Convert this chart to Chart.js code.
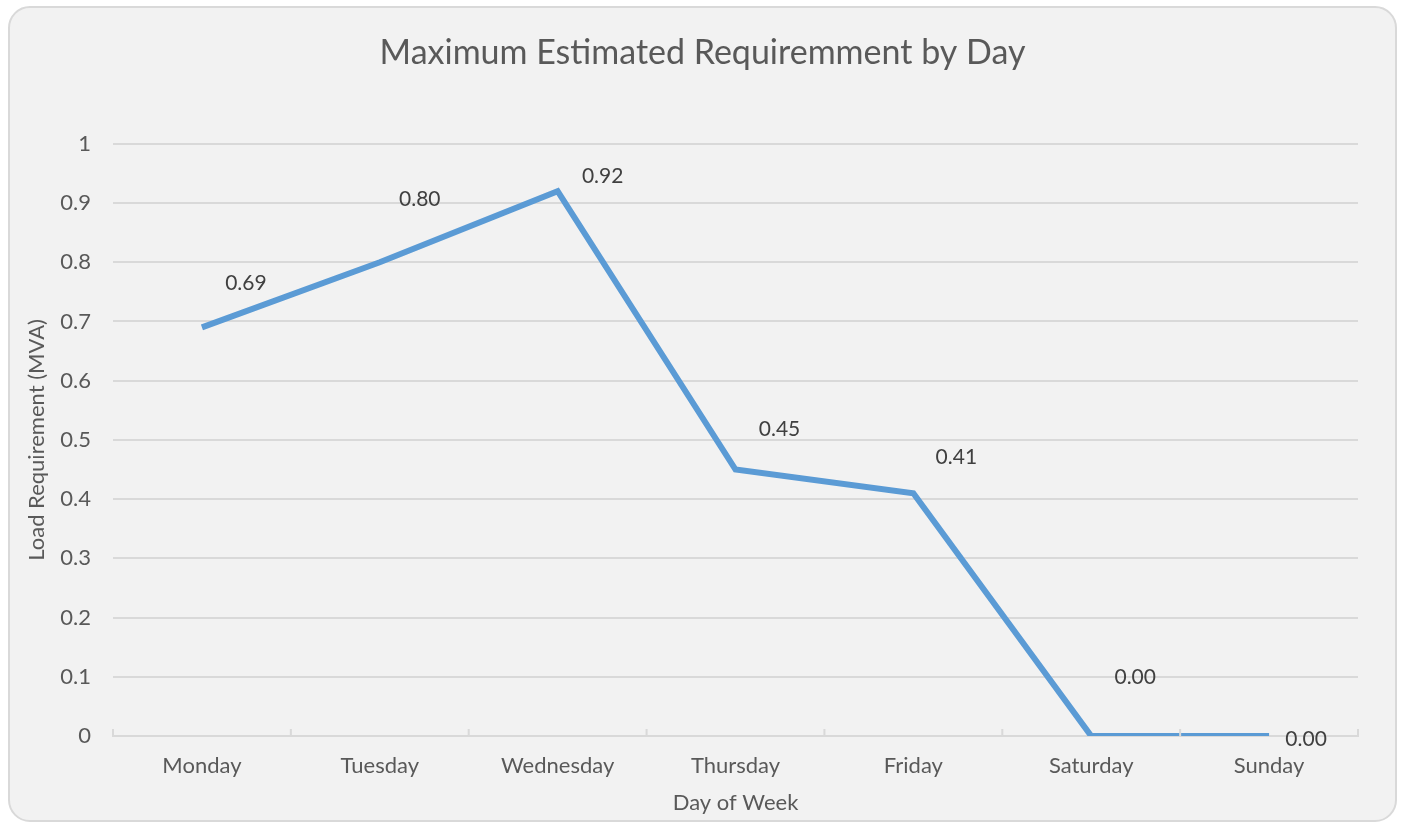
<!DOCTYPE html>
<html>
<head>
<meta charset="utf-8">
<script src="https://cdn.jsdelivr.net/npm/chart.js@4"></script>
<style>
  body { margin: 0; background: #ffffff; }
  #box {
    position: absolute; left: 8px; top: 6px;
    width: 1385px; height: 812px;
    background: #f2f2f2;
    border: 2px solid #d9d9d9;
    border-radius: 22px;
  }
</style>
</head>
<body>
<div id="box"><canvas id="myChart" width="1385" height="812"></canvas></div>
<script>
const days = ['Monday', 'Tuesday', 'Wednesday', 'Thursday', 'Friday', 'Saturday', 'Sunday'];
const loadMVA = [0.69, 0.80, 0.92, 0.45, 0.41, 0.00, 0.00];
const yTicks = [0, 0.1, 0.2, 0.3, 0.4, 0.5, 0.6, 0.7, 0.8, 0.9, 1];

const FONT = 'Lato, "Open Sans", sans-serif';

// label offsets (how Excel placed each data label, in px from the point)
const labelDx = [44, 40, 45, 44, 43, 44, 37];
const labelDy = [-44, -63, -15, -40, -36, -59, 3];

const dataLabels = {
  id: 'dataLabels',
  afterDatasetsDraw(chart) {
    const c = chart.ctx;
    const meta = chart.getDatasetMeta(0);
    c.save();
    c.font = '21px ' + FONT;
    c.fillStyle = '#404040';
    c.textAlign = 'center';
    c.textBaseline = 'middle';
    meta.data.forEach((pt, i) => {
      c.fillText(loadMVA[i].toFixed(2), pt.x + labelDx[i], pt.y + labelDy[i]);
    });
    c.restore();
  }
};

// small upward tick marks at category boundaries
const catTicks = {
  id: 'catTicks',
  afterDraw(chart) {
    const x = chart.scales.x;
    const y0 = chart.chartArea.bottom;
    const c = chart.ctx;
    c.save();
    c.strokeStyle = '#d9d9d9';
    c.lineWidth = 2;
    for (let i = 0; i <= days.length; i++) {
      let px;
      if (i === 0) px = chart.chartArea.left;
      else if (i === days.length) px = chart.chartArea.right;
      else px = (x.getPixelForValue(i - 1) + x.getPixelForValue(i)) / 2;
      c.beginPath();
      c.moveTo(px, y0);
      c.lineTo(px, y0 - 7);
      c.stroke();
    }
    c.restore();
  }
};

const ctx = document.getElementById('myChart').getContext('2d');

new Chart(ctx, {
  type: 'line',
  data: {
    labels: days,
    datasets: [{
      label: 'Load Requirement',
      data: loadMVA,
      borderColor: '#5b9bd5',
      borderWidth: 6,
      pointRadius: 0,
      fill: false,
      tension: 0
    }]
  },
  options: {
    responsive: false,
    animation: false,
    // symmetric side padding keeps the title centred on the card
    layout: { padding: { left: 37, right: 37, top: 0, bottom: 0 } },
    plugins: {
      legend: { display: false },
      tooltip: { enabled: false },
      title: {
        display: true,
        text: 'Maximum Estimated Requiremment by Day',
        color: '#595959',
        font: { family: FONT, size: 34, weight: 'normal' },
        padding: { top: 25, bottom: 70 }
      }
    },
    scales: {
      x: {
        offset: true,
        grid: { display: false },
        border: { color: '#d9d9d9', width: 2 },
        ticks: { color: '#595959', font: { family: FONT, size: 22 }, padding: 9 },
        title: {
          display: true, text: 'Day of Week', color: '#595959',
          font: { family: FONT, size: 22 }, padding: { top: 2 }
        },
        afterFit(scale) { scale.height = 84; }
      },
      y: {
        min: 0,
        max: 1,
        afterBuildTicks(scale) { scale.ticks = yTicks.map(v => ({ value: v })); },
        grid: { color: '#d9d9d9', lineWidth: 2, drawTicks: false },
        border: { display: false },
        ticks: {
          color: '#595959', font: { family: FONT, size: 22 }, padding: 22,
          callback: v => String(Math.round(v * 10) / 10)
        },
        title: {
          display: true, text: 'Load Requirement (MVA)', color: '#595959',
          font: { family: FONT, size: 22 }, padding: { top: -23, bottom: 0 }
        },
        afterFit(scale) { scale.width = 66; }
      }
    }
  },
  plugins: [dataLabels, catTicks]
});
</script>
</body>
</html>
